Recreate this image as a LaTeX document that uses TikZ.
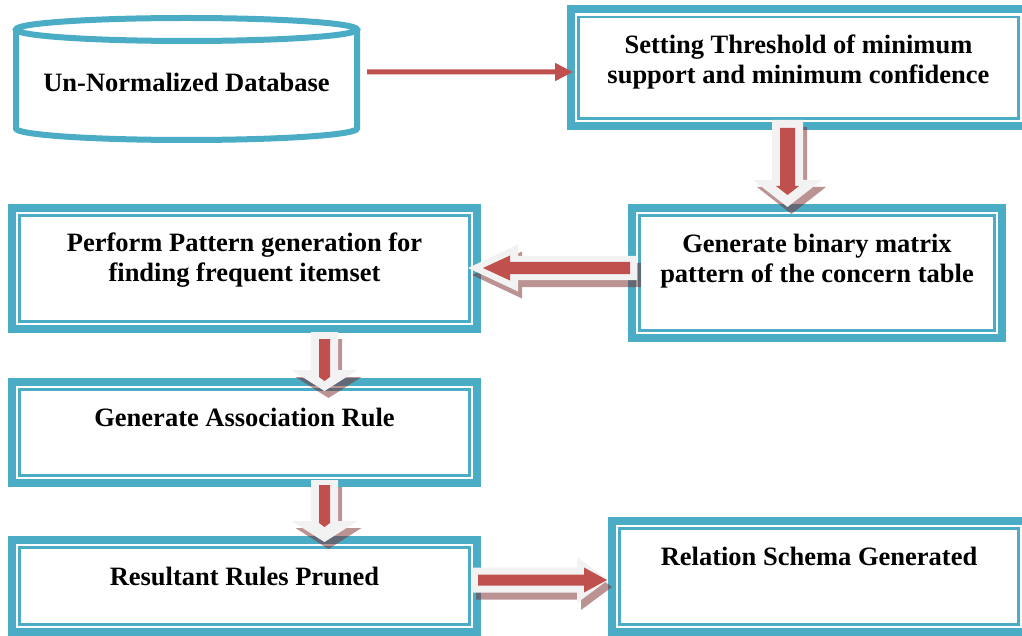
\documentclass[tikz,border=0pt]{standalone}
\usepackage{fontspec}
\setmainfont{Liberation Serif}
\usepackage{tikz}
\usetikzlibrary{arrows.meta, calc}
\definecolor{boxteal}{RGB}{75,172,198}
\definecolor{arrred}{RGB}{192,80,77}
\definecolor{arrlight}{RGB}{242,242,242}
\definecolor{arrshade}{RGB}{120,40,40}
\tikzset{
  box/.style={draw=boxteal, fill=white, line width=8pt, inner sep=0pt, outer sep=0pt},
  innerline/.style={draw=boxteal, line width=2.2pt},
  lbl/.style={font=\fontsize{26.5}{30}\selectfont\bfseries, align=center,
    anchor=base, inner sep=0pt},
  dbline/.style={draw=boxteal, line width=6pt},
  thinarrow/.style={draw=arrred, line width=5pt, -{Triangle[length=18pt,width=17pt]}},
  arrshadow/.style={fill=arrshade, fill opacity=0.5},
  % dimensions of the block arrows
  ar shaft/.store in=\arShaft, ar head/.store in=\arHead, ar head len/.store in=\arHeadLen,
  red start/.store in=\arRStart, red shaft/.store in=\arRShaft, red head/.store in=\arRHead,
  red head len/.store in=\arRHeadLen, red gap/.store in=\arRGap,
  ar shaft=12, ar head=24, ar head len=30, red start=6, red shaft=6,
  red head=12, red head len=20, red gap=6
}
% arrow outline along +x: length, shaft half width, head half width, head length
\newcommand{\arrowpath}[4]{(0,#2) -- ({#1-#4},#2) -- ({#1-#4},#3) -- (#1,0)
  -- ({#1-#4},-#3) -- ({#1-#4},-#2) -- (0,-#2) -- cycle}
% block arrow with shadow, light outline and red core
\newcommand{\fatarrow}[3][]{%
  \path let \p1=($(#3)-(#2)$) in \pgfextra{%
    \pgfmathparse{veclen(\x1,\y1)}\xdef\arLen{\pgfmathresult}%
    \pgfmathparse{atan2(\y1,\x1)}\xdef\arAng{\pgfmathresult}};
  \begin{scope}[#1]
    \fill[arrshadow, shift={(#2)}, shift={(4,-7)}, rotate=\arAng]
      \arrowpath{\arLen}{\arShaft}{\arHead}{\arHeadLen};
    \fill[arrlight, shift={(#2)}, rotate=\arAng]
      \arrowpath{\arLen}{\arShaft}{\arHead}{\arHeadLen};
    \fill[arrred, shift={(#2)}, rotate=\arAng, xshift=\arRStart]
      \arrowpath{\arLen-\arRStart-\arRGap}{\arRShaft}{\arRHead}{\arRHeadLen};
  \end{scope}}

\begin{document}
\begin{tikzpicture}[x=1pt, y=1pt]
  \useasboundingbox (0,0) rectangle (1022,-636);

  % database cylinder
  \node[lbl, minimum width=341pt] (db) at (186.5,-91.7) {Un-Normalized Database};
  \draw[dbline] (16,-29.5) -- (16,-128.5)
    arc[start angle=180, end angle=360, x radius=170.5, y radius=11.5] -- (357,-29.5);
  \draw[dbline] (186.5,-29.5) ellipse [x radius=170.5, y radius=11.5];

  % process boxes
  \node[box, minimum width=455pt, minimum height=116.5pt] (set) at (798.5,-67.75) {};
  \node[box, minimum width=370pt, minimum height=130pt] (bin) at (817,-273) {};
  \node[box, minimum width=465pt, minimum height=121pt] (pat) at (244.5,-268.5) {};
  \node[box, minimum width=465pt, minimum height=101pt] (assoc) at (244.5,-432.5) {};
  \node[box, minimum width=465pt, minimum height=92pt] (prune) at (244.5,-586) {};
  \node[box, minimum width=414pt, minimum height=111pt] (rel) at (819,-576.5) {};
  \foreach \b in {set,bin,pat,assoc,prune,rel}
    \draw[innerline] ([shift={(7.5,-7.5)}]\b.north west) rectangle ([shift={(-7.5,7.5)}]\b.south east);

  % box texts (base is the last line's baseline)
  \node[lbl] (set-t) at ([yshift=-74.5pt]set.north) {Setting Threshold of minimum\\support and minimum confidence};
  \node[lbl] (bin-t) at ([yshift=-75pt]bin.north) {Generate binary matrix\\pattern of the concern table};
  \node[lbl] (pat-t) at ([yshift=-73.5pt]pat.north) {Perform Pattern generation for\\finding frequent itemset};
  \node[lbl] (assoc-t) at ([yshift=-44.5pt]assoc.north) {Generate Association Rule};
  \node[lbl] (prune-t) at ([yshift=-45pt]prune.north) {Resultant Rules Pruned};
  \node[lbl] (rel-t) at ([yshift=-44pt]rel.north) {Relation Schema Generated};

  % arrows
  \draw[thinarrow] ([xshift=10pt,yshift=10.7pt]db.east) -- ([xshift=2pt,yshift=-4.25pt]set.west);
  \fatarrow[ar shaft=15.5, ar head=34.5, ar head len=27, red start=8, red shaft=7.5,
    red head=11.5, red head len=9, red gap=12]
    {[xshift=-11pt,yshift=6pt]set.south}{[xshift=-29.5pt,yshift=1pt]bin.north}
  \fatarrow[ar shaft=12, ar head=23.5, ar head len=50, red start=7, red shaft=6,
    red head=12.5, red head len=27, red gap=15]
    {[xshift=5pt,yshift=5pt]bin.west}{[xshift=-9pt,yshift=0.5pt]pat.east}
  \fatarrow[ar shaft=13.5, ar head=33, ar head len=21, red start=7, red shaft=5.5,
    red head=5.5, red head len=4, red gap=10]
    {[xshift=80pt,yshift=-3pt]pat.south}{[xshift=80pt,yshift=-9pt]assoc.north}
  \fatarrow[ar shaft=13.5, ar head=33, ar head len=21, red start=5, red shaft=5.5,
    red head=5.5, red head len=4, red gap=15]
    {[xshift=80pt,yshift=3pt]assoc.south}{[xshift=80pt,yshift=-2pt]prune.north}
  \fatarrow[ar shaft=12.5, ar head=23, ar head len=31, red start=6, red shaft=5.5,
    red head=12.5, red head len=23, red gap=1]
    {[xshift=-5pt,yshift=6pt]prune.east}{[xshift=-4pt,yshift=-3.5pt]rel.west}
\end{tikzpicture}
\end{document}
